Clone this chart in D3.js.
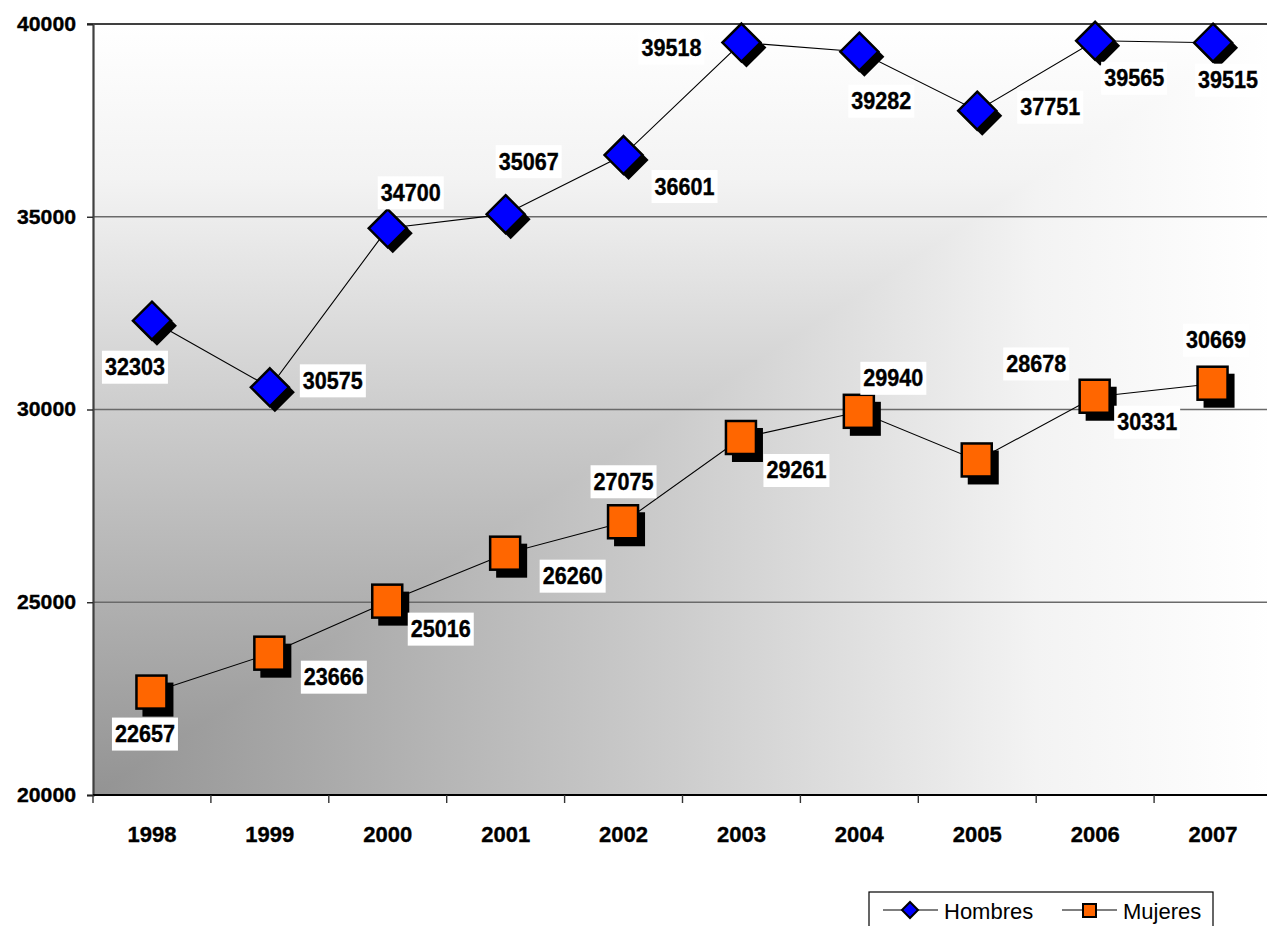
<!DOCTYPE html>
<html><head><meta charset="utf-8">
<script src="https://cdn.jsdelivr.net/npm/d3@7"></script>
<style>
html,body{margin:0;padding:0;background:#fff;}
svg{display:block;font-family:"Liberation Sans",Arial,sans-serif;}
</style></head>
<body>
<svg id="c" width="1267" height="926"></svg>
<script>
const years = ["1998","1999","2000","2001","2002","2003","2004","2005","2006","2007"];
const hombres = [32303,30575,34700,35067,36601,39518,39282,37751,39565,39515];
const mujeres = [22657,23666,25016,26260,27075,29261,29940,28678,30331,30669];
const yTicks = [20000,25000,30000,35000,40000];
const seriesNames = ["Hombres","Mujeres"];
// label placement offsets (px from marker centre)
const hombresLabelOffsets = [[-17,46],[63,-7],[23,-36],[23,-53],[61,31],[-70,5],[22,49],[73,-4],[39,37],[15,37]];
const mujeresLabelOffsets = [[-7,41],[64,23],[53,27],[67,22],[0,-41],[55,32],[34,-34],[59,-97],[52,25],[3,-44]];

const svg = d3.select("#c");
const L = 93, T = 24, B = 795, step = 117.9;
const R = L + step*years.length;
const x = d3.scaleBand().domain(years).range([L, R]);
const y = d3.scaleLinear().domain([20000,40000]).range([B, T]);

// background gradient (from bottom-left corner, rectangular)
const defs = svg.append("defs");
const stops = [[0,"#939393"],[0.5,"#cdcdcd"],[0.8,"#f3f3f3"],[1,"#ffffff"]];
const gx = defs.append("linearGradient").attr("id","gx").attr("gradientUnits","userSpaceOnUse")
  .attr("x1",L).attr("y1",0).attr("x2",R).attr("y2",0);
const gy = defs.append("linearGradient").attr("id","gy").attr("gradientUnits","userSpaceOnUse")
  .attr("x1",0).attr("y1",B).attr("x2",0).attr("y2",T);
stops.forEach(s=>{gx.append("stop").attr("offset",s[0]).attr("stop-color",s[1]);
                  gy.append("stop").attr("offset",s[0]).attr("stop-color",s[1]);});
svg.append("rect").attr("x",L).attr("y",T).attr("width",R-L).attr("height",B-T).attr("fill","url(#gy)");
svg.append("polygon").attr("points",`${L},${B} ${R},${B} ${R},${T}`).attr("fill","url(#gx)");

// gridlines
svg.append("g").selectAll("line").data(yTicks.filter(t=>t>20000&&t<40000)).join("line")
  .attr("x1",L).attr("x2",1267).attr("y1",d=>y(d)).attr("y2",d=>y(d))
  .attr("stroke","#6a6a6a").attr("stroke-width",1.6);
svg.append("line").attr("x1",L-6).attr("x2",1267).attr("y1",y(40000)).attr("y2",y(40000))
  .attr("stroke","#000").attr("stroke-width",1.6);

// y axis
const yAxis = d3.axisLeft(y).tickValues(yTicks).tickSize(6).tickPadding(11).tickFormat(d3.format("d"));
const ga = svg.append("g").attr("transform",`translate(${L},0)`).call(yAxis);
ga.select(".domain").attr("stroke","#404040").attr("stroke-width",2.2);
ga.selectAll(".tick line").attr("stroke","#222").attr("stroke-width",1.4);
ga.selectAll(".tick text").attr("font-size",20).attr("font-weight","bold").attr("fill","#000")
  .attr("stroke","#000").attr("stroke-width",0.35)
  .attr("textLength",59).attr("lengthAdjust","spacingAndGlyphs")
  .attr("font-family","Liberation Sans, Arial, sans-serif");

// x axis
svg.append("line").attr("x1",L).attr("x2",1267).attr("y1",B).attr("y2",B).attr("stroke","#000").attr("stroke-width",1.8);
svg.append("g").selectAll("line").data(years.slice(1)).join("line")
  .attr("x1",d=>x(d)).attr("x2",d=>x(d)).attr("y1",B).attr("y2",B+8)
  .attr("stroke","#333").attr("stroke-width",1.4);
svg.append("line").attr("x1",L).attr("x2",L).attr("y1",B).attr("y2",B+8).attr("stroke","#333").attr("stroke-width",1.4);
svg.append("g").selectAll("text").data(years).join("text")
  .attr("x",d=>x(d)+x.bandwidth()/2).attr("y",842).attr("text-anchor","middle")
  .attr("font-size",22).attr("font-weight","bold").attr("stroke","#000").attr("stroke-width",0.35).text(d=>d);

const cx = i => x(years[i]) + x.bandwidth()/2;
const line = d3.line().x((d,i)=>cx(i)).y(d=>y(d));

[hombres, mujeres].forEach(s=>{
  svg.append("path").attr("d",line(s)).attr("fill","none").attr("stroke","#000").attr("stroke-width",1.1);
});

// markers
const dia = (r)=>`M0,${-r}L${r},0L0,${r}L${-r},0Z`;
const gh = svg.append("g");
hombres.forEach((v,i)=>{
  const g = gh.append("g").attr("transform",`translate(${cx(i)},${y(v)})`);
  g.append("path").attr("d",dia(20)).attr("transform","translate(5,5)").attr("fill","#000");
  g.append("path").attr("d",dia(19)).attr("fill","#0000ff").attr("stroke","#000").attr("stroke-width",2.5);
});
const gm = svg.append("g");
mujeres.forEach((v,i)=>{
  const g = gm.append("g").attr("transform",`translate(${cx(i)},${y(v)})`);
  g.append("rect").attr("x",-14.5).attr("y",-15).attr("width",31).attr("height",34).attr("transform","translate(5,5)").attr("fill","#000");
  g.append("rect").attr("x",-15.5).attr("y",-17).attr("width",30).attr("height",33).attr("fill","#ff6600").attr("stroke","#000").attr("stroke-width",2.5);
});

// data labels
function labels(s, offs){
  s.forEach((v,i)=>{
    const lx = cx(i)+offs[i][0], ly = y(v)+offs[i][1];
    const g = svg.append("g").attr("transform",`translate(${lx},${ly})`);
    g.append("rect").attr("x",-33).attr("y",-16).attr("width",66).attr("height",33).attr("fill","#fff");
    g.append("text").attr("text-anchor","middle").attr("y",8.5).attr("font-size",23).attr("font-weight","bold")
      .attr("stroke","#000").attr("stroke-width",0.35)
      .attr("textLength",60).attr("lengthAdjust","spacingAndGlyphs")
      .text(v);
  });
}
labels(hombres, hombresLabelOffsets);
labels(mujeres, mujeresLabelOffsets);

// legend
const lg = svg.append("g");
lg.append("rect").attr("x",869).attr("y",892).attr("width",344).attr("height",40).attr("fill","#fff").attr("stroke","#000").attr("stroke-width",1.2);
const legX = [883, 1062];
seriesNames.forEach((n,k)=>{
  const x0 = legX[k];
  lg.append("line").attr("x1",x0).attr("x2",x0+55).attr("y1",910).attr("y2",910).attr("stroke","#000").attr("stroke-width",1.2);
  if(k===0){
    lg.append("path").attr("d",dia(8)).attr("transform",`translate(${x0+27},910)`).attr("fill","#0000ff").attr("stroke","#000").attr("stroke-width",2);
  } else {
    lg.append("rect").attr("x",x0+21).attr("y",904).attr("width",13).attr("height",13).attr("fill","#ff6600").attr("stroke","#000").attr("stroke-width",2);
  }
  lg.append("text").attr("x",x0+61).attr("y",919).attr("font-size",22).text(n);
});
</script>
</body></html>
